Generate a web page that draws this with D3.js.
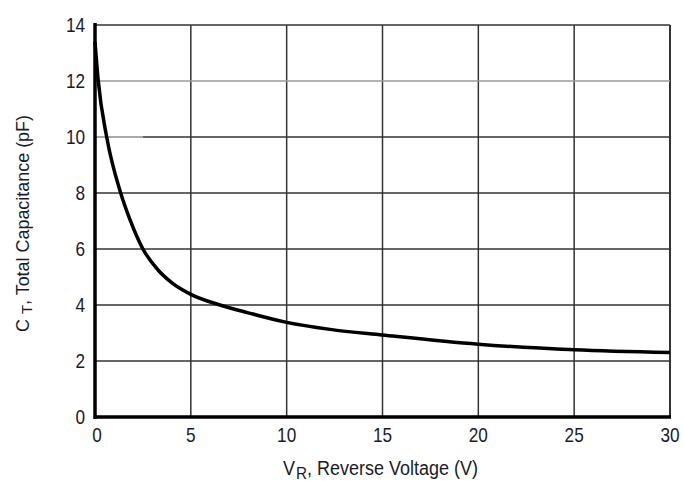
<!DOCTYPE html>
<html>
<head>
<meta charset="utf-8">
<script src="https://cdn.jsdelivr.net/npm/d3@7"></script>
<style>
  html, body { margin: 0; padding: 0; background: #fff; }
  text { font-family: "Liberation Sans", Arial, sans-serif; fill: #1a1a2a; }
</style>
</head>
<body>
<svg id="chart" width="684" height="482"></svg>
<script>
// reverse voltage (V) and total capacitance (pF)
const voltage = [0, 0.17, 0.61, 1.34, 1.83, 2.5, 3.29, 4, 5, 6.52, 8, 10, 12.26, 15, 20, 25, 30];
const capacitance = [13.4, 12, 10, 8, 7.04, 6, 5.25, 4.8, 4.38, 4, 3.72, 3.38, 3.13, 2.93, 2.6, 2.4, 2.3];
const xTicks = [0, 5, 10, 15, 20, 25, 30];
const yTicks = [0, 2, 4, 6, 8, 10, 12, 14];

const svg = d3.select('#chart');
const margin = { top: 25, right: 14, bottom: 65, left: 95 };
const width = +svg.attr('width') - margin.left - margin.right;
const height = +svg.attr('height') - margin.top - margin.bottom;
const g = svg.append('g').attr('transform', `translate(${margin.left},${margin.top})`);

const x = d3.scaleLinear().domain([0, 30]).range([0, width]);
const y = d3.scaleLinear().domain([0, 14]).range([height, 0]);

// grid
g.selectAll('.vgrid').data(xTicks.slice(1)).join('line')
    .attr('x1', d => x(d)).attr('x2', d => x(d))
    .attr('y1', 0).attr('y2', height)
    .attr('stroke', '#333').attr('stroke-width', d => d === 30 ? 2 : 1.5);

g.selectAll('.hgrid').data(yTicks.slice(1)).join('line')
    .attr('x1', 0).attr('x2', width)
    .attr('y1', d => y(d)).attr('y2', d => y(d))
    .attr('stroke', d => d === 12 ? '#9a9a9a' : '#333')
    .attr('stroke-width', 1.5);

// the 10 pF line is faded near the axis
g.append('line')
    .attr('x1', 0).attr('x2', x(2.5))
    .attr('y1', y(10)).attr('y2', y(10))
    .attr('stroke', '#a8a8a8').attr('stroke-width', 1.8);

// tick labels (narrow face, so squeeze them a bit)
g.selectAll('.xlab').data(xTicks).join('text')
    .attr('transform', d => `translate(${x(d) + (d === 0 ? 2 : 0)},${height + 25}) scale(0.86,1)`)
    .attr('text-anchor', 'middle')
    .style('font-size', '20px')
    .text(d => d);

g.selectAll('.ylab').data(yTicks).join('text')
    .attr('transform', d => `translate(-10,${y(d) + 7}) scale(0.86,1)`)
    .attr('text-anchor', 'end')
    .style('font-size', '20px')
    .text(d => d);

g.append('line').attr('x1', 0).attr('x2', 0).attr('y1', -2).attr('y2', height + 2)
    .attr('stroke', '#000').attr('stroke-width', 3.5);
g.append('line').attr('x1', -1).attr('x2', width + 1).attr('y1', height).attr('y2', height)
    .attr('stroke', '#000').attr('stroke-width', 3.5);

// curve
const line = d3.line()
    .x((d, i) => x(voltage[i]))
    .y(d => y(d))
    .curve(d3.curveMonotoneX);

g.append('path')
    .datum(capacitance)
    .attr('fill', 'none')
    .attr('stroke', '#000')
    .attr('stroke-width', 3.5)
    .attr('d', line);

// axis titles
const xt = svg.append('text')
    .attr('x', 283).attr('y', 475)
    .style('font-size', '20px');
xt.append('tspan').text('V');
xt.append('tspan').attr('dx', 1).attr('dy', 4).style('font-size', '17px').text('R');
xt.append('tspan').attr('dy', -4).text(', Reverse Voltage (V)');
xt.attr('textLength', 195).attr('lengthAdjust', 'spacingAndGlyphs');

const yt = svg.append('text')
    .attr('transform', 'translate(29,332) rotate(-90)')
    .style('font-size', '18px');
yt.append('tspan').text('C ');
yt.append('tspan').attr('dy', 3).style('font-size', '15px').text('T');
yt.append('tspan').attr('dy', -3).text(', Total Capacitance (pF)');
yt.attr('textLength', 217).attr('lengthAdjust', 'spacingAndGlyphs');
</script>
</body>
</html>
